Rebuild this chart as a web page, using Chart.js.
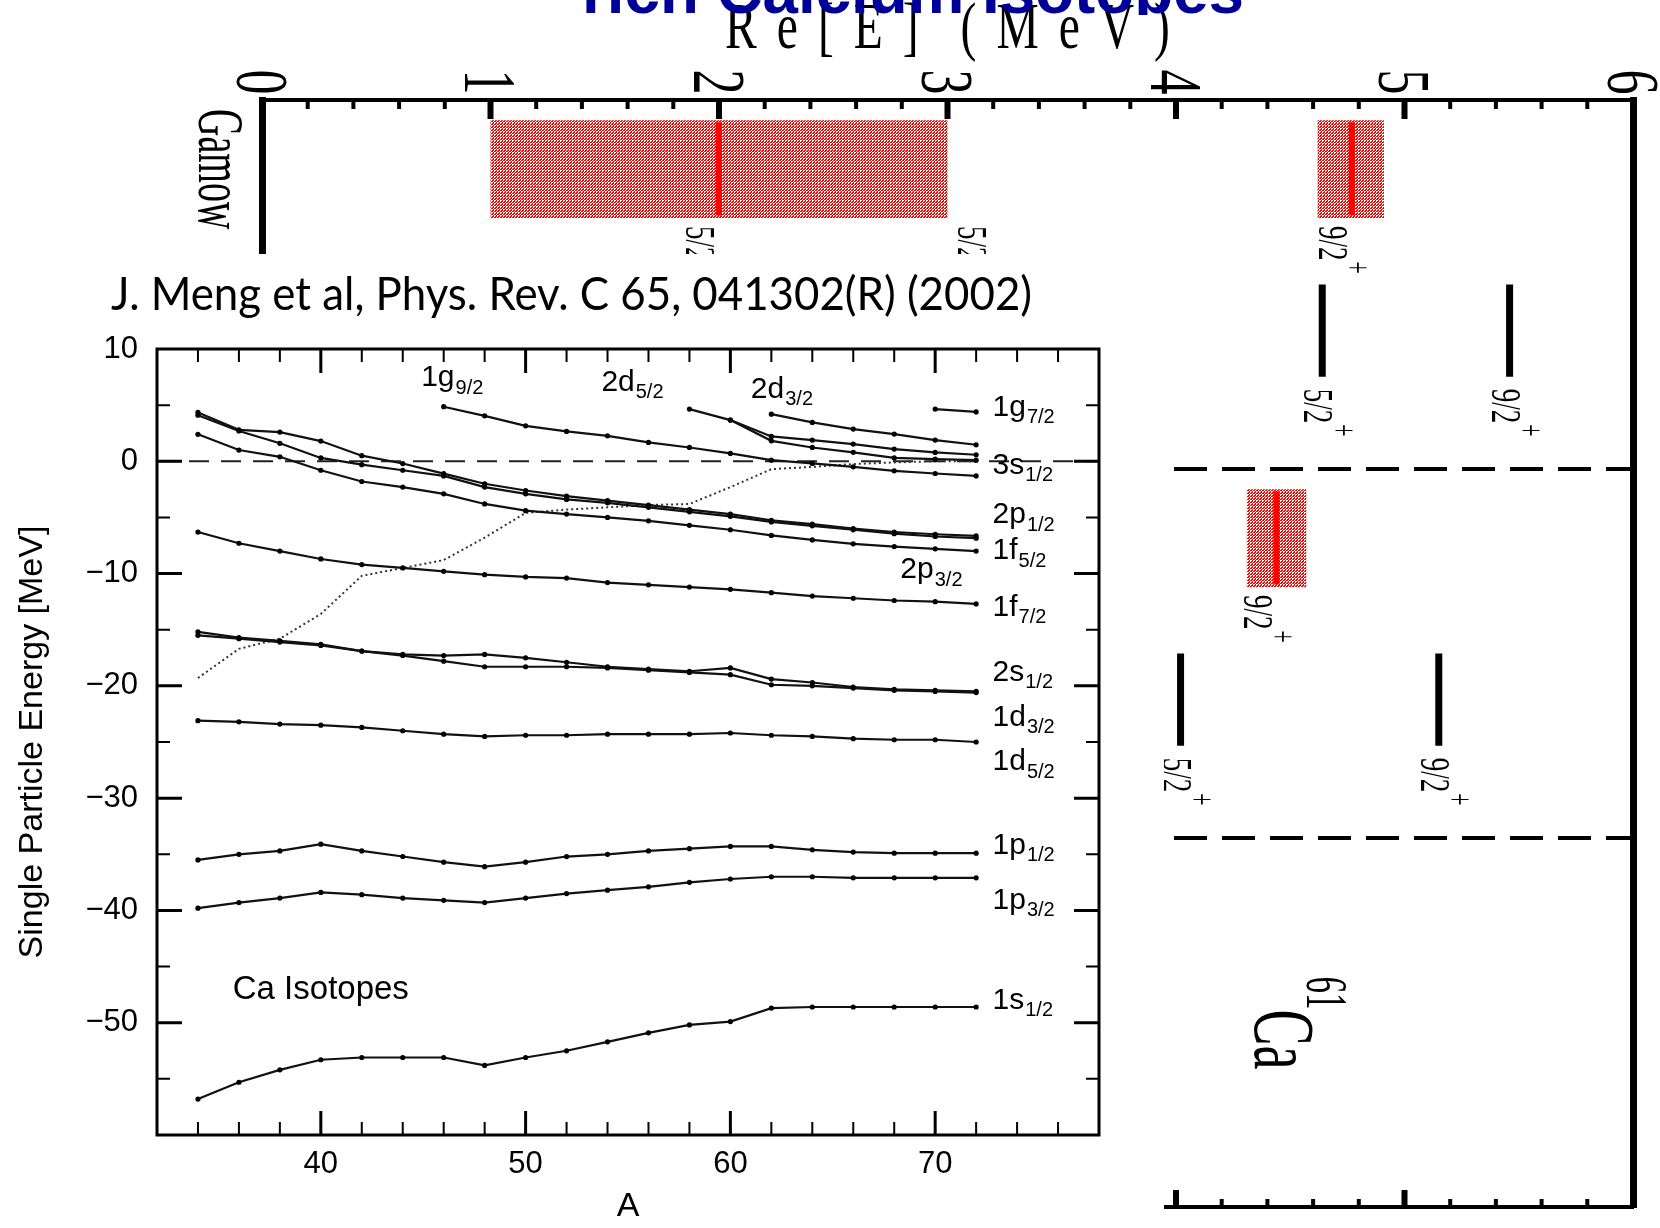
<!DOCTYPE html>
<html>
<head>
<meta charset="utf-8">
<title>Calcium isotopes</title>
<script src="https://cdn.jsdelivr.net/npm/chart.js@4.4.1/dist/chart.umd.min.js"></script>
<style>
  html, body { margin: 0; padding: 0; background: #fff; overflow: hidden; }
  #main { position: absolute; left: 0; top: 0; width: 1660px; height: 1228px; }
  #inset { position: absolute; left: 0; top: 254px; width: 1164px; height: 974px; background: #fff; }
</style>
</head>
<body>
<div id="main"><canvas id="levels"></canvas></div>
<div id="inset"><canvas id="spe"></canvas></div>
<script>
// ---- rotated level scheme, Re[E] in MeV ----
const reTicks = ['0', '1', '2', '3', '4', '5', '6'];

const gamowGroup  = [0, 0, 1];
const gamowEnergy = [2.0, 4.77, 4.44];
const gamowLow    = [1.0, 4.62, 4.31];
const gamowHigh   = [3.0, 4.91, 4.57];
const gamowSpin   = ['5/2', '9/2', '9/2'];

const levelGroup  = [0, 0, 1, 1];
const levelEnergy = [4.64, 5.46, 4.02, 5.15];
const levelSpin   = ['5/2', '9/2', '5/2', '9/2'];

const strayEnergy = [3.19];   // label whose level sits under the inset
const straySpin   = ['5/2'];

// ---- inset: single particle energies of Ca isotopes (MeV) ----
const massA = [34, 36, 38, 40, 42, 44, 46, 48, 50, 52, 54, 56, 58, 60, 62, 64, 66, 68, 70, 72];
const s12a = [-56.8, -55.3, -54.2, -53.3, -53.1, -53.1, -53.1, -53.8, -53.1, -52.5, -51.7, -50.9, -50.2, -49.9, -48.7, -48.6, -48.6, -48.6, -48.6, -48.6];
const p32a = [-39.8, -39.3, -38.9, -38.4, -38.6, -38.9, -39.1, -39.3, -38.9, -38.5, -38.2, -37.9, -37.5, -37.2, -37.0, -37.0, -37.1, -37.1, -37.1, -37.1];
const p12a = [-35.5, -35.0, -34.7, -34.1, -34.7, -35.2, -35.7, -36.1, -35.7, -35.2, -35.0, -34.7, -34.5, -34.3, -34.3, -34.6, -34.8, -34.9, -34.9, -34.9];
const d52a = [-23.1, -23.2, -23.4, -23.5, -23.7, -24.0, -24.3, -24.5, -24.4, -24.4, -24.3, -24.3, -24.3, -24.2, -24.4, -24.5, -24.7, -24.8, -24.8, -25.0];
const d32a = [-15.5, -15.8, -16.1, -16.4, -16.9, -17.3, -17.8, -18.3, -18.3, -18.3, -18.4, -18.6, -18.8, -19.0, -19.9, -20.0, -20.2, -20.4, -20.5, -20.6];
const s12b = [-15.2, -15.7, -16.0, -16.3, -16.9, -17.2, -17.3, -17.2, -17.5, -17.9, -18.3, -18.5, -18.7, -18.4, -19.4, -19.7, -20.1, -20.3, -20.4, -20.5];
const f72a = [-6.3, -7.3, -8.0, -8.7, -9.2, -9.5, -9.8, -10.1, -10.3, -10.4, -10.8, -11.0, -11.2, -11.4, -11.7, -12.0, -12.2, -12.4, -12.5, -12.7];
const f52a = [2.4, 1.0, 0.4, -0.8, -1.8, -2.3, -2.9, -3.8, -4.4, -4.7, -5.0, -5.3, -5.7, -6.1, -6.6, -7.0, -7.35, -7.6, -7.8, -8.0];
const p32b = [4.35, 2.8, 2.6, 1.8, 0.5, -0.2, -1.1, -2.0, -2.6, -3.1, -3.5, -3.9, -4.3, -4.7, -5.25, -5.6, -6.0, -6.3, -6.5, -6.65];
const p12b = [4.1, 2.7, 1.6, 0.3, -0.3, -0.8, -1.3, -2.3, -2.9, -3.4, -3.7, -4.1, -4.5, -4.9, -5.4, -5.75, -6.1, -6.45, -6.7, -6.85];
const g92a = [null, null, null, null, null, null, 4.86, 4.05, 3.16, 2.66, 2.27, 1.68, 1.23, 0.70, 0.10, -0.19, -0.49, -0.85, -1.09, -1.3];
const d52b = [null, null, null, null, null, null, null, null, null, null, null, null, 4.65, 3.67, 2.21, 1.89, 1.53, 1.09, 0.79, 0.58];
const d52c = [null, null, null, null, null, null, null, null, null, null, null, null, null, 3.67, 1.82, 1.23, 0.8, 0.3, 0.2, 0.1];
const d32b = [null, null, null, null, null, null, null, null, null, null, null, null, null, null, 4.2, 3.46, 2.87, 2.42, 1.89, 1.47];
const g72a = [null, null, null, null, null, null, null, null, null, null, null, null, null, null, null, null, null, null, 4.65, 4.4];
const s12c = [-19.3, -16.7, -15.8, -13.6, -10.2, -9.5, -8.8, -6.8, -4.6, -4.3, -4.1, -3.9, -3.8, -2.3, -0.7, -0.5, -0.25, -0.1, 0.0, 0.0];

const labelMain = ['1g', '2d', '2d', '1g', '3s', '2p', '1f', '2p', '1f', '2s', '1d', '1d', '1p', '1p', '1s'];
const labelSub  = ['9/2', '5/2', '3/2', '7/2', '1/2', '1/2', '5/2', '3/2', '7/2', '1/2', '3/2', '5/2', '1/2', '3/2', '1/2'];
const labelA    = [44.9, 53.7, 61.0, 72.8, 72.8, 72.8, 72.8, 68.3, 72.8, 72.8, 72.8, 72.8, 72.8, 72.8, 72.8];
const labelE    = [7.4, 7.0, 6.4, 4.8, -0.4, -4.8, -8.0, -9.7, -13.0, -18.8, -22.8, -26.8, -34.2, -39.1, -48.0];

// ---------------- main level scheme ----------------
const mainCanvas = document.getElementById('levels');
const tile = document.createElement('canvas');
tile.width = 3; tile.height = 3;
const tctx = tile.getContext('2d');
tctx.fillStyle = '#f00'; tctx.fillRect(0, 0, 3, 3);
tctx.fillStyle = '#fff';
tctx.fillRect(1, 1, 1, 1); tctx.fillRect(0, 2, 1, 1); tctx.fillRect(2, 2, 1, 1); tctx.fillRect(2, 0, 1, 1);
const hatch = mainCanvas.getContext('2d').createPattern(tile, 'repeat');

const BAND = [0.055, 0.32], STICK = [0.06, 0.313], BAR = [0.5, 0.75];

const levelSets = [];
gamowEnergy.forEach((e, i) => {
  const g = gamowGroup[i], lo = gamowLow[i], hi = gamowHigh[i];
  levelSets.push({
    data: [{x: lo, y: g + BAND[0]}, {x: hi, y: g + BAND[0]}, {x: hi, y: g + BAND[1]}, {x: lo, y: g + BAND[1]}, {x: lo, y: g + BAND[0]}],
    borderColor: 'rgba(0,0,0,0)', borderWidth: 0, backgroundColor: hatch, fill: 'shape', order: 3
  });
  levelSets.push({ data: [{x: e, y: g + STICK[0]}, {x: e, y: g + STICK[1]}], borderColor: '#ff0000', borderWidth: 6, order: 1 });
});
levelEnergy.forEach((e, i) => {
  const g = levelGroup[i];
  levelSets.push({ data: [{x: e, y: g + BAR[0]}, {x: e, y: g + BAR[1]}], borderColor: '#000', borderWidth: 7, order: 1 });
});
[1, 2].forEach(g => levelSets.push({
  data: [{x: 0, y: g}, {x: 6, y: g}], borderColor: '#000', borderWidth: 4, borderDash: [33, 15], order: 2
}));

function rotText(ctx, text, x, y, font, sy, align, dy) {
  ctx.save();
  ctx.translate(x, y);
  ctx.rotate(Math.PI / 2);
  ctx.scale(1, sy);
  ctx.font = font;
  ctx.textAlign = align;
  ctx.textBaseline = 'alphabetic';
  ctx.fillText(text, 0, dy || 0);
  ctx.restore();
}

function spinLabel(ctx, spin, baseX, startY) {
  ctx.save();
  ctx.translate(baseX, startY);
  ctx.rotate(Math.PI / 2);
  ctx.scale(1, 1.6);
  ctx.fillStyle = '#000';
  ctx.font = '27px "Liberation Serif"';
  ctx.textAlign = 'left';
  ctx.textBaseline = 'alphabetic';
  ctx.fillText(spin, 0, 0);
  const w = ctx.measureText(spin).width;
  ctx.font = '22px "Liberation Serif"';
  ctx.textBaseline = 'middle';
  ctx.fillText('+', w + 1, -23);
  ctx.restore();
}

const schemeDecor = {
  id: 'schemeDecor',
  afterDraw(chart) {
    const ctx = chart.ctx;
    const sx = chart.scales.x, sy = chart.scales.y;
    const {top, bottom, left} = chart.chartArea;
    ctx.save();
    ctx.fillStyle = '#000';
    ctx.strokeStyle = '#000';
    // inward ticks on top and bottom axes
    sx.ticks.forEach(t => {
      const px = sx.getPixelForValue(t.value);
      const major = Math.abs(t.value - Math.round(t.value)) < 1e-6;
      ctx.lineWidth = major ? 6 : 4;
      ctx.beginPath();
      ctx.moveTo(px, top); ctx.lineTo(px, top + (major ? 19 : 9));
      ctx.moveTo(px, bottom); ctx.lineTo(px, bottom - (major ? 17 : 8));
      ctx.stroke();
      if (major) {
        rotText(ctx, reTicks[Math.round(t.value)], px, 82, '50px "Liberation Serif"', 1.5, 'center', 16.9);
      }
    });
    // axis title Re[E] (MeV): tall, narrow, widely spaced
    ctx.font = '66px "Liberation Serif"';
    ctx.textBaseline = 'alphabetic';
    ctx.textAlign = 'left';
    const title = 'Re[E] (MeV)';
    const sq = 0.72, gap = 20;
    let total = 0;
    for (const ch of title) total += ch === ' ' ? 22 : ctx.measureText(ch).width * sq + gap;
    total -= gap;
    let tx = (sx.left + sx.right) / 2 - total / 2;
    for (const ch of title) {
      if (ch === ' ') { tx += 22; continue; }
      ctx.save(); ctx.translate(tx, 48); ctx.scale(sq, 1); ctx.fillText(ch, 0, 0); ctx.restore();
      tx += ctx.measureText(ch).width * sq + gap;
    }
    // row label
    const gy = (sy.getPixelForValue(BAND[0]) + sy.getPixelForValue(BAND[1])) / 2;
    ctx.font = '38px "Liberation Serif"';
    const gw = ctx.measureText('Gamow').width;
    rotText(ctx, 'Gamow', left - 63, gy - gw / 2, '38px "Liberation Serif"', 1.7, 'left', 0);
    // spin labels
    gamowEnergy.forEach((e, i) => {
      spinLabel(ctx, gamowSpin[i], sx.getPixelForValue(e) - 33, sy.getPixelForValue(gamowGroup[i] + BAND[1]) + 8);
    });
    strayEnergy.forEach((e, i) => {
      spinLabel(ctx, straySpin[i], sx.getPixelForValue(e) - 33, sy.getPixelForValue(BAND[1]) + 8);
    });
    levelEnergy.forEach((e, i) => {
      spinLabel(ctx, levelSpin[i], sx.getPixelForValue(e) - 18, sy.getPixelForValue(levelGroup[i] + BAR[1]) + 12);
    });
    // nucleus label 61Ca
    const cx = sx.getPixelForValue(4.47), cy = sy.getPixelForValue(2.5);
    rotText(ctx, '61', cx + 24, cy - 46, '33px "Liberation Serif"', 1.8, 'left', 0);
    rotText(ctx, 'Ca', cx - 28, cy - 13, '54px "Liberation Serif"', 1.6, 'left', 0);
    // slide title (cut at the top edge)
    ctx.save();
    ctx.beginPath(); ctx.rect(0, 0, chart.width, 15); ctx.clip();
    ctx.font = 'bold 64px "Liberation Sans"';
    ctx.fillStyle = '#000099';
    const head = 'rich Calcium Isotopes';
    const hw = ctx.measureText(head).width;
    ctx.translate(582, 13);
    ctx.scale(662 / hw, 1);
    ctx.fillText(head, 0, 0);
    ctx.restore();
    ctx.restore();
  }
};

const flatScale = (pos, horizontal, extra) => Object.assign({
  type: 'linear', position: pos, display: true,
  ticks: { display: false },
  grid: { display: false, drawTicks: false },
  afterFit: s => { if (horizontal) s.height = 0; else s.width = 0; }
}, extra);

new Chart(mainCanvas, {
  type: 'line',
  data: { datasets: levelSets },
  options: {
    animation: false,
    responsive: true,
    maintainAspectRatio: false,
    layout: { padding: { left: 262, right: 27, top: 100, bottom: 21 } },
    elements: { point: { radius: 0 }, line: { tension: 0 } },
    plugins: { legend: { display: false }, tooltip: { enabled: false } },
    scales: {
      x: flatScale('top', true, { min: 0, max: 6, ticks: { display: false, stepSize: 0.2 }, border: { display: true, width: 4, color: '#000' } }),
      x2: flatScale('bottom', true, { min: 0, max: 6, border: { display: true, width: 4, color: '#000' } }),
      y: flatScale('left', false, { min: 0, max: 3, reverse: true, border: { display: true, width: 7, color: '#000' } }),
      y2: flatScale('right', false, { min: 0, max: 3, reverse: true, border: { display: true, width: 7, color: '#000' } })
    }
  },
  plugins: [schemeDecor]
});

// ---------------- inset: Meng et al. ----------------
const series = [s12a, p32a, p12a, d52a, d32a, s12b, f72a, f52a, p32b, p12b, g92a, d52b, d52c, d32b, g72a];
const toPoints = arr => massA.map((a, i) => ({x: a, y: arr[i]})).filter(p => p.y !== null);

const insetSets = series.map(arr => ({
  data: toPoints(arr), borderColor: '#111', borderWidth: 2.2,
  pointRadius: 2.6, pointBackgroundColor: '#000', pointBorderWidth: 0
}));
insetSets.push({ data: toPoints(s12c), borderColor: '#333', borderWidth: 2, borderDash: [2, 3], pointRadius: 0 });
insetSets.push({ data: [{x: 32, y: 0}, {x: 78, y: 0}], borderColor: '#222', borderWidth: 2, borderDash: [20, 12], pointRadius: 0 });

const fmt = v => (v < 0 ? '\u2212' + Math.abs(v) : String(v));

const insetDecor = {
  id: 'insetDecor',
  afterDraw(chart) {
    const ctx = chart.ctx;
    const {left, right, top, bottom} = chart.chartArea;
    const sx = chart.scales.x, sy = chart.scales.y;
    ctx.save();
    ctx.strokeStyle = '#000';
    ctx.fillStyle = '#000';
    ctx.lineWidth = 3;
    ctx.strokeRect(left, top, right - left, bottom - top);
    sx.ticks.forEach(t => {
      if (t.value <= 32 || t.value >= 78) return;
      const px = sx.getPixelForValue(t.value);
      const len = t.value % 10 === 0 ? 24 : 13;
      ctx.lineWidth = t.value % 10 === 0 ? 3 : 2;
      ctx.beginPath();
      ctx.moveTo(px, bottom); ctx.lineTo(px, bottom - len);
      ctx.moveTo(px, top); ctx.lineTo(px, top + len);
      ctx.stroke();
    });
    sy.ticks.forEach(t => {
      if (t.value <= -60 || t.value >= 10) return;
      const py = sy.getPixelForValue(t.value);
      const len = t.value % 10 === 0 ? 25 : 13;
      ctx.lineWidth = t.value % 10 === 0 ? 3 : 2;
      ctx.beginPath();
      ctx.moveTo(left, py); ctx.lineTo(left + len, py);
      ctx.moveTo(right, py); ctx.lineTo(right - len, py);
      ctx.stroke();
    });
    // orbital labels
    ctx.textAlign = 'left';
    ctx.textBaseline = 'middle';
    labelMain.forEach((m, i) => {
      const x = sx.getPixelForValue(labelA[i]), y = sy.getPixelForValue(labelE[i]);
      ctx.font = '30px "Liberation Sans"';
      ctx.fillText(m, x, y);
      const w = ctx.measureText(m).width;
      ctx.font = '20px "Liberation Sans"';
      ctx.fillText(labelSub[i], x + w + 1, y + 10);
    });
    ctx.font = '33px "Liberation Sans"';
    ctx.fillText('Ca Isotopes', sx.getPixelForValue(35.7), sy.getPixelForValue(-47.1));
    // reference line above the panel
    const ref = 'J. Meng et al, Phys. Rev. C 65, 041302(R) (2002)';
    ctx.font = '46px Lato';
    ctx.textBaseline = 'alphabetic';
    const rw = ctx.measureText(ref).width;
    ctx.translate(111, 56);
    ctx.scale(921 / rw, 1);
    ctx.fillText(ref, 0, 0);
    ctx.restore();
  }
};

new Chart(document.getElementById('spe'), {
  type: 'line',
  data: { datasets: insetSets },
  options: {
    animation: false,
    responsive: true,
    maintainAspectRatio: false,
    layout: { padding: { left: 0, right: 65, top: 95, bottom: 0 } },
    elements: { line: { tension: 0 } },
    plugins: { legend: { display: false }, tooltip: { enabled: false } },
    scales: {
      x: {
        type: 'linear', min: 32, max: 78,
        grid: { display: false, drawTicks: false },
        border: { display: false },
        ticks: {
          stepSize: 2, autoSkip: false, maxRotation: 0, padding: 11, color: '#000',
          font: { family: 'Liberation Sans', size: 31 },
          callback: v => (v % 10 === 0 && v > 32 && v < 78 ? String(v) : '')
        },
        title: { display: true, text: 'A', color: '#000', font: { family: 'Liberation Sans', size: 34 }, padding: { top: 0, bottom: 1 } },
        afterFit: s => { s.height = 93; }
      },
      y: {
        type: 'linear', min: -60, max: 10,
        grid: { display: false, drawTicks: false },
        border: { display: false },
        ticks: {
          stepSize: 5, autoSkip: false, padding: 19, color: '#000',
          font: { family: 'Liberation Sans', size: 31 },
          callback: v => (v % 10 === 0 && v > -60 ? fmt(v) : '')
        },
        title: { display: true, text: 'Single Particle Energy [MeV]', color: '#000', font: { family: 'Liberation Sans', size: 34 }, padding: { top: 12, bottom: 0 } },
        afterFit: s => { s.width = 157; }
      }
    }
  },
  plugins: [insetDecor]
});
</script>
</body>
</html>
